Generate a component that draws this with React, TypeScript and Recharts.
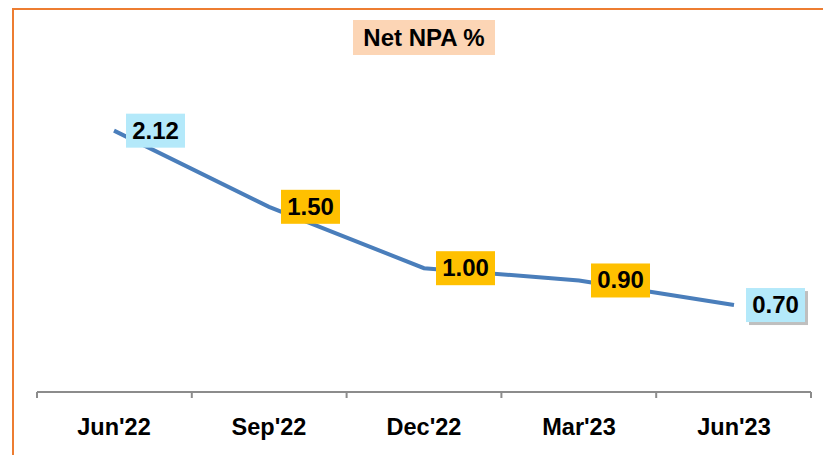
import React from 'react';
import { LineChart, Line, XAxis, YAxis, LabelList } from 'recharts';

const categories = ["Jun'22", "Sep'22", "Dec'22", "Mar'23", "Jun'23"];
const netNpa = [2.12, 1.5, 1.0, 0.9, 0.7];
const labelFills = ['#B4E9FA', '#FFC000', '#FFC000', '#FFC000', '#B4E9FA'];
const labelShadow = [false, false, false, false, true];
const boundaryTicks = [0, 1, 2, 3, 4, 5];

const data = categories.map((name, i) => ({ name, value: netNpa[i], pos: i + 0.5 }));

const FONT = '"Liberation Sans", Arial, sans-serif';

function ValueLabel(props: any) {
    const { x, y, value, index } = props;
    const w = 59;
    const h = 34;
    const left = x + 12;
    const top = y - h / 2;
    return (
        <g>
            {labelShadow[index] && (
                <rect x={left + 3} y={top + 3} width={w} height={h} fill="#000" opacity={0.25} />
            )}
            <rect x={left} y={top} width={w} height={h} fill={labelFills[index]} />
            <text
                x={left + w / 2}
                y={y + 8}
                textAnchor="middle"
                fontFamily={FONT}
                fontWeight="bold"
                fontSize={24}
                fill="#000"
            >
                {Number(value).toFixed(2)}
            </text>
        </g>
    );
}

function App() {
    return (
        <div style={{ position: 'absolute', left: 0, top: 0, width: 823, height: 455, overflow: 'hidden', background: '#fff' }}>
            <div style={{ position: 'absolute', left: 12, top: 8, width: 900, height: 600, borderTop: '2px solid #ED7D31', borderLeft: '2px solid #ED7D31' }} />
            <div style={{
                position: 'absolute', left: 353, top: 20, width: 142, height: 35, background: '#FCD5B5',
                fontFamily: FONT, fontWeight: 'bold', fontSize: 24, lineHeight: '35px', textAlign: 'center', color: '#000'
            }}>
                Net NPA %
            </div>
            <div style={{ position: 'absolute', left: 0, top: 0 }}>
                <LineChart width={823} height={455} data={data} margin={{ top: 84, right: 12, bottom: 23, left: 37 }}>
                    <XAxis
                        xAxisId="cat"
                        dataKey="name"
                        padding={{ left: 77, right: 77 }}
                        axisLine={false}
                        tickLine={false}
                        height={1}
                        tickMargin={21}
                        tick={{ fontFamily: FONT, fontWeight: 'bold', fontSize: 23.5, fill: '#000' }}
                    />
                    <XAxis
                        xAxisId="edges"
                        dataKey="pos"
                        type="number"
                        domain={[0, 5]}
                        allowDataOverflow
                        ticks={boundaryTicks}
                        tickFormatter={() => ''}
                        tickSize={6}
                        height={40}
                        stroke="#8C8C8C"
                        axisLine={{ stroke: '#8C8C8C', strokeWidth: 2 }}
                        tickLine={{ stroke: '#8C8C8C', strokeWidth: 2 }}
                    />
                    <YAxis hide domain={[0, 2.5]} />
                    <Line
                        xAxisId="cat"
                        type="linear"
                        dataKey="value"
                        stroke="#4A7EBB"
                        strokeWidth={4}
                        dot={false}
                        isAnimationActive={false}
                    >
                        <LabelList dataKey="value" content={<ValueLabel />} />
                    </Line>
                </LineChart>
            </div>
        </div>
    );
}

export default App;
